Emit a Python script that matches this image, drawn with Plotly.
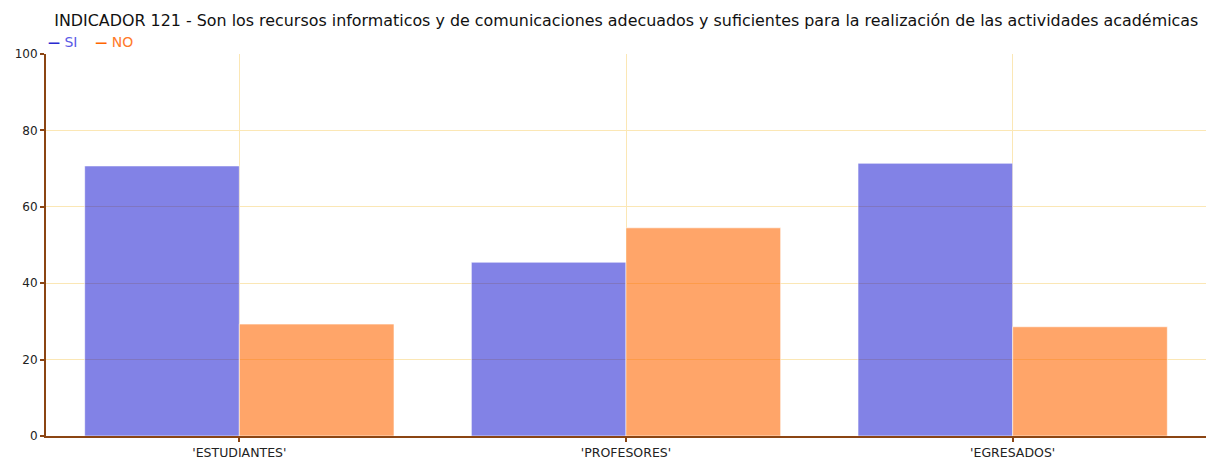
import plotly.graph_objects as go

categories = ["'ESTUDIANTES'", "'PROFESORES'", "'EGRESADOS'"]
si_values = [70.7, 45.5, 71.4]
no_values = [29.3, 54.5, 28.6]
y_ticks = [0, 20, 40, 60, 80, 100]
series_names = ["SI", "NO"]

title_text = ("INDICADOR 121 - Son los recursos informaticos y de comunicaciones adecuados "
              "y suficientes para la realización de las actividades académicas")

BLUE_FILL = "rgba(0,0,204,0.49)"
ORANGE_FILL = "rgba(255,102,0,0.59)"
AXIS = "#8B4513"
GRID = "#FBE7B5"

fig = go.Figure()
fig.add_trace(go.Bar(x=categories, y=si_values, name=series_names[0], showlegend=False,
                     marker=dict(color=BLUE_FILL, line=dict(color="rgba(255,255,255,0.6)", width=1))))
fig.add_trace(go.Bar(x=categories, y=no_values, name=series_names[1], showlegend=False,
                     marker=dict(color=ORANGE_FILL, line=dict(color="rgba(255,255,255,0.6)", width=1))))

legend_html = ("<span style='color:#2a2ad0;font-size:12px'><b>—</b></span>&nbsp;<span style='color:#5a5ae6'>%s</span>"
               "&nbsp;&nbsp;&nbsp;&nbsp;<span style='color:#ff6600;font-size:12px'><b>—</b></span>&nbsp;<span style='color:#ff7a2a'>%s</span>"
               % (series_names[0], series_names[1]))
fig.add_annotation(text=legend_html, xref="paper", yref="paper", x=0, y=1, xanchor="left",
                   yanchor="middle", showarrow=False, font=dict(size=14), xshift=0, yshift=12)

fig.update_layout(
    width=1222, height=459,
    margin=dict(l=46, r=16, t=54, b=23, autoexpand=False),
    paper_bgcolor="white", plot_bgcolor="white",
    barmode="group", bargap=0.2, bargroupgap=0,
    font=dict(family="DejaVu Sans, Verdana, sans-serif", color="#222"),
    title=dict(text=title_text, x=0.5125, xanchor="center", y=1 - 20 / 459, yanchor="middle",
               font=dict(size=15.9, color="#111")),
    showlegend=False,
    xaxis=dict(showline=True, linecolor=AXIS, linewidth=2, ticks="outside", ticklen=4,
               tickcolor=AXIS, tickwidth=2, showgrid=True, gridcolor=GRID, gridwidth=1,
               tickfont=dict(size=12.5, color="#222"), range=[-0.5, 2.5], automargin=False),
    yaxis=dict(showline=True, linecolor=AXIS, linewidth=2, ticks="outside", ticklen=4,
               tickcolor=AXIS, tickwidth=2, showgrid=True, gridcolor=GRID, gridwidth=1,
               range=[0, 100], tickvals=y_ticks, tickfont=dict(size=12, color="#222"),
               zeroline=False, automargin=False),
)

fig.write_html("out.html", config={"displayModeBar": False},
               post_script="document.body.style.margin='0px';")
